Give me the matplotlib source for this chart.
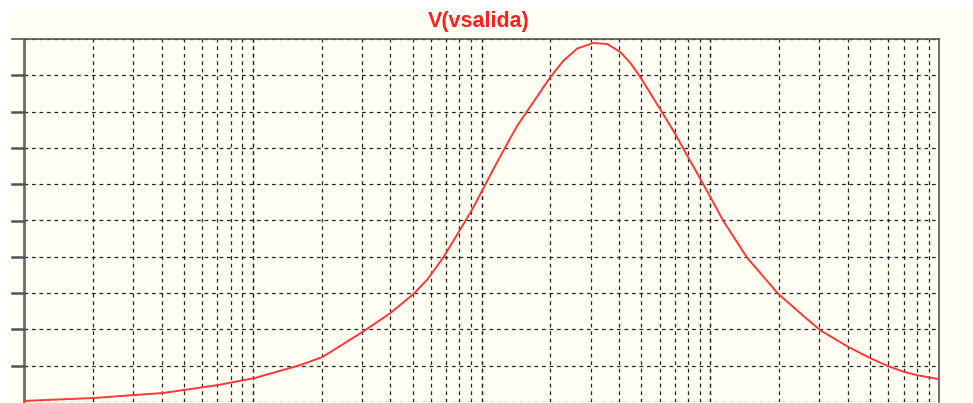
import matplotlib
matplotlib.use("Agg")
import matplotlib.pyplot as plt
from matplotlib.patches import Rectangle
from matplotlib.lines import Line2D
import numpy as np

# Frequency (Hz) and output voltage (V)
freq = [10, 20.2, 40.8, 71.0, 102, 162, 202, 302, 400, 505, 581, 682, 834, 923,
        1021, 1128, 1339, 1436, 2000, 2280, 2625, 3083, 3550, 4045, 4475, 4945,
        6050, 7035, 7625, 9230, 10310, 11400, 14510, 19820, 24710, 30200, 40050,
        50000, 59850, 70300, 80150, 100000]
vout = [0.03, 0.11, 0.25, 0.47, 0.66, 1.02, 1.24, 1.93, 2.45, 2.98, 3.38, 3.99,
        4.90, 5.37, 5.90, 6.42, 7.28, 7.62, 8.95, 9.40, 9.74, 9.89, 9.86, 9.64,
        9.34, 8.95, 8.06, 7.38, 6.98, 6.05, 5.50, 4.99, 3.97, 2.98, 2.45, 1.98,
        1.52, 1.21, 0.99, 0.83, 0.74, 0.63]
y_ticks = [0, 1, 2, 3, 4, 5, 6, 7, 8, 9, 10]
title = "V(vsalida)"

W, H = 973, 403
fig = plt.figure(figsize=(W / 100, H / 100), dpi=100)
fig.patch.set_facecolor("white")
cream = "#FFFFF4"
fig.patches.append(Rectangle((11 / W, 0), 1 - 11 / W, 1 - 11 / H,
                             transform=fig.transFigure, facecolor=cream,
                             edgecolor="none", zorder=-10))

x0, x1 = 24, 939
ytop, ybot = 39, 402
ax = fig.add_axes([x0 / W, (H - ybot) / H, (x1 - x0) / W, (ybot - ytop) / H])
ax.set_zorder(1)
ax.set_facecolor(cream)
ax.set_xscale("log")
ax.set_xlim(10, 100000)
ax.set_ylim(0, 10)

# grid
ax.set_yticks(y_ticks)
ax.set_xticks([d * m for d in [10, 100, 1000, 10000] for m in range(1, 11)])
ax.xaxis.set_minor_locator(matplotlib.ticker.NullLocator())
ax.grid(True, which="major", color="#222222", linestyle=(0, (3, 3)), linewidth=0.9)
ax.tick_params(axis="x", length=0, labelbottom=False)
ax.tick_params(axis="y", length=0, labelleft=False)

ax.plot(freq, vout, color="#FF3838", linewidth=1.4, zorder=5, clip_on=True,
        solid_joinstyle="round")

for s in ["top", "right"]:
    ax.spines[s].set_color("#555555")
    ax.spines[s].set_linewidth(1.2)
ax.spines["left"].set_color("#6E6E6E")
ax.spines["left"].set_linewidth(2.0)
ax.spines["bottom"].set_visible(False)

# left tick marks (outside the frame) and extension of the top border
for v in y_ticks[1:10]:
    yf = (H - (ybot - (ybot - ytop) * v / 10)) / H
    fig.lines.append(Line2D([12 / W, x0 / W], [yf, yf], transform=fig.transFigure,
                            color="#555555", linewidth=1.8, zorder=2))
fig.lines.append(Line2D([12 / W, x0 / W], [(H - ytop) / H, (H - ytop) / H],
                        transform=fig.transFigure, color="#555555", linewidth=1.2,
                        zorder=2))

fig.text(479 / W, 1 - 22 / H, title, color="#FF2020", fontsize=15.5,
         fontweight="bold", family="Liberation Sans", ha="center", va="center",
         zorder=3)

fig.savefig("out.png", dpi=100, facecolor=fig.get_facecolor())
